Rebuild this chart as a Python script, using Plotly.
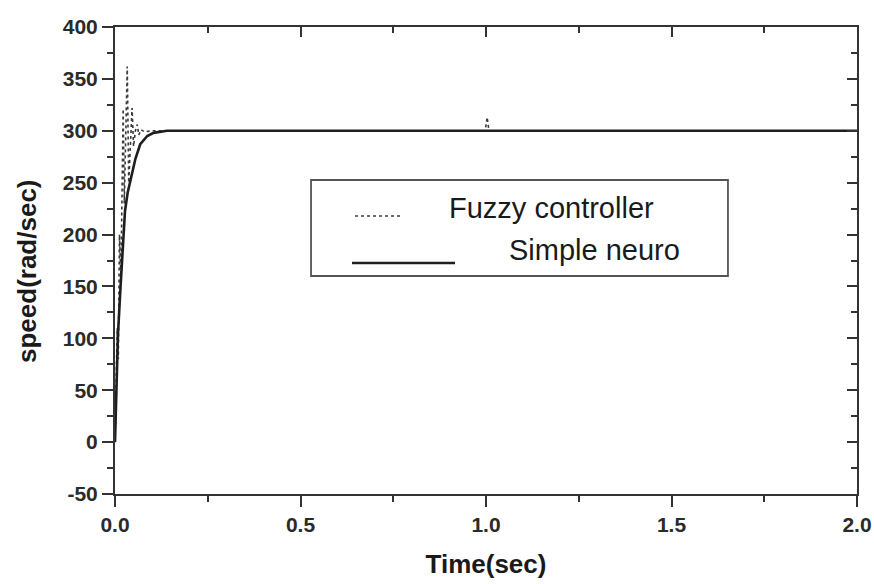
import plotly.graph_objects as go

# ---- data ----
neuro_t = [0, 0.004, 0.008, 0.015, 0.022, 0.027, 0.034, 0.041, 0.055, 0.068, 0.087, 0.104, 0.14, 0.2, 2.0]
neuro_v = [0, 50, 104, 150, 190, 223, 240, 252, 273, 287, 295, 298, 300, 300, 300]

fuzzy_t = [0, 0.003, 0.006, 0.009, 0.012, 0.016, 0.019, 0.022, 0.025, 0.029, 0.033, 0.037,
           0.042, 0.046, 0.050, 0.055, 0.060, 0.064, 0.070, 0.080, 0.10, 0.5,
           0.998, 1.003, 1.008, 1.02, 2.0]
fuzzy_v = [0, 60, 110, 80, 200, 160, 260, 321, 230, 300, 362, 250,
           290, 322, 285, 300, 306, 296, 301, 299, 300, 300,
           300, 313, 300, 300, 300]

x_ticks = [0.0, 0.5, 1.0, 1.5, 2.0]
x_tick_labels = ["0.0", "0.5", "1.0", "1.5", "2.0"]
y_ticks = [-50, 0, 50, 100, 150, 200, 250, 300, 350, 400]
y_tick_labels = ["-50", "0", "50", "100", "150", "200", "250", "300", "350", "400"]

series_names = ["Fuzzy controller", "Simple neuro"]
x_title = "Time(sec)"
y_title = "speed(rad/sec)"

INK = "#1e1e1e"
AX = "#333333"
FONT = "Liberation Sans, Arial, sans-serif"

fig = go.Figure()
fig.add_trace(go.Scatter(x=fuzzy_t, y=fuzzy_v, mode="lines", name=series_names[0],
                         line=dict(color="#3a3a3a", width=1.6, dash="dot"), showlegend=False))
fig.add_trace(go.Scatter(x=neuro_t, y=neuro_v, mode="lines", name=series_names[1],
                         line=dict(color=INK, width=2.6), showlegend=False))
# helper trace for the mirrored (top/right) axes
fig.add_trace(go.Scatter(x=[None], y=[None], xaxis="x2", yaxis="y2", showlegend=False,
                         hoverinfo="skip"))

tickfont = dict(family=FONT, size=21, color="#2a2a2a", weight=700)

fig.update_layout(
    width=874, height=584,
    margin=dict(l=115, r=17, t=27, b=90, autoexpand=False),
    paper_bgcolor="white", plot_bgcolor="white",
    xaxis=dict(range=[0, 2], tickvals=x_ticks, ticktext=x_tick_labels, automargin=False,
               ticks="outside", ticklen=11, tickwidth=2, tickcolor=AX,
               minor=dict(dtick=0.25, tick0=0, ticks="outside", ticklen=6, tickwidth=2, tickcolor=AX),
               showline=True, linewidth=2, linecolor=AX, showgrid=False, zeroline=False,
               tickfont=tickfont,
               title=dict(text=x_title, font=dict(family=FONT, size=26, color="#1a1a1a", weight=700),
                          standoff=20)),
    yaxis=dict(range=[-50, 400], tickvals=y_ticks, ticktext=y_tick_labels, automargin=False,
               ticks="outside", ticklen=11, tickwidth=2, tickcolor=AX,
               minor=dict(dtick=25, tick0=-50, ticks="outside", ticklen=6, tickwidth=2, tickcolor=AX),
               showline=True, linewidth=2, linecolor=AX, showgrid=False, zeroline=False,
               tickfont=tickfont),
    xaxis2=dict(range=[0, 2], overlaying="x", side="top", anchor="y", tickvals=x_ticks, automargin=False,
                ticks="inside", ticklen=10, tickwidth=2, tickcolor=AX, showticklabels=False,
                minor=dict(dtick=0.25, tick0=0, ticks="inside", ticklen=6, tickwidth=2, tickcolor=AX),
                showline=True, linewidth=2, linecolor=AX, showgrid=False, zeroline=False),
    yaxis2=dict(range=[-50, 400], overlaying="y", side="right", anchor="x", tickvals=y_ticks, automargin=False,
                ticks="inside", ticklen=10, tickwidth=2, tickcolor=AX, showticklabels=False,
                minor=dict(dtick=25, tick0=-50, ticks="inside", ticklen=6, tickwidth=2, tickcolor=AX),
                showline=True, linewidth=2, linecolor=AX, showgrid=False, zeroline=False),
)

# y axis title placed where it sits in the reference
fig.add_annotation(xref="paper", yref="paper", x=-0.1186, y=0.4775, xanchor="center", yanchor="middle",
                   text=y_title, textangle=-90, showarrow=False,
                   font=dict(family=FONT, size=26, color="#1a1a1a", weight=700))

# ---- legend box drawn as in the reference ----
fig.add_shape(type="rect", xref="paper", yref="paper", x0=0.2642, x1=0.8261, y0=0.4668, y1=0.6724,
              line=dict(color="#555555", width=1.8), fillcolor="rgba(0,0,0,0)")
fig.add_shape(type="line", xref="paper", yref="paper", x0=0.3235, x1=0.3868, y0=0.5953, y1=0.5953,
              line=dict(color="#3a3a3a", width=1.6, dash="dot"))
fig.add_shape(type="line", xref="paper", yref="paper", x0=0.3194, x1=0.4582, y0=0.4946, y1=0.4946,
              line=dict(color=INK, width=2.6))
fig.add_annotation(xref="paper", yref="paper", x=0.4474, y=0.6124, xanchor="left", yanchor="middle",
                   text=series_names[0], showarrow=False,
                   font=dict(family=FONT, size=29, color="#1a1a1a"))
fig.add_annotation(xref="paper", yref="paper", x=0.5283, y=0.5225, xanchor="left", yanchor="middle",
                   text=series_names[1], showarrow=False,
                   font=dict(family=FONT, size=29, color="#1a1a1a"))

fig.write_html("out.html")
